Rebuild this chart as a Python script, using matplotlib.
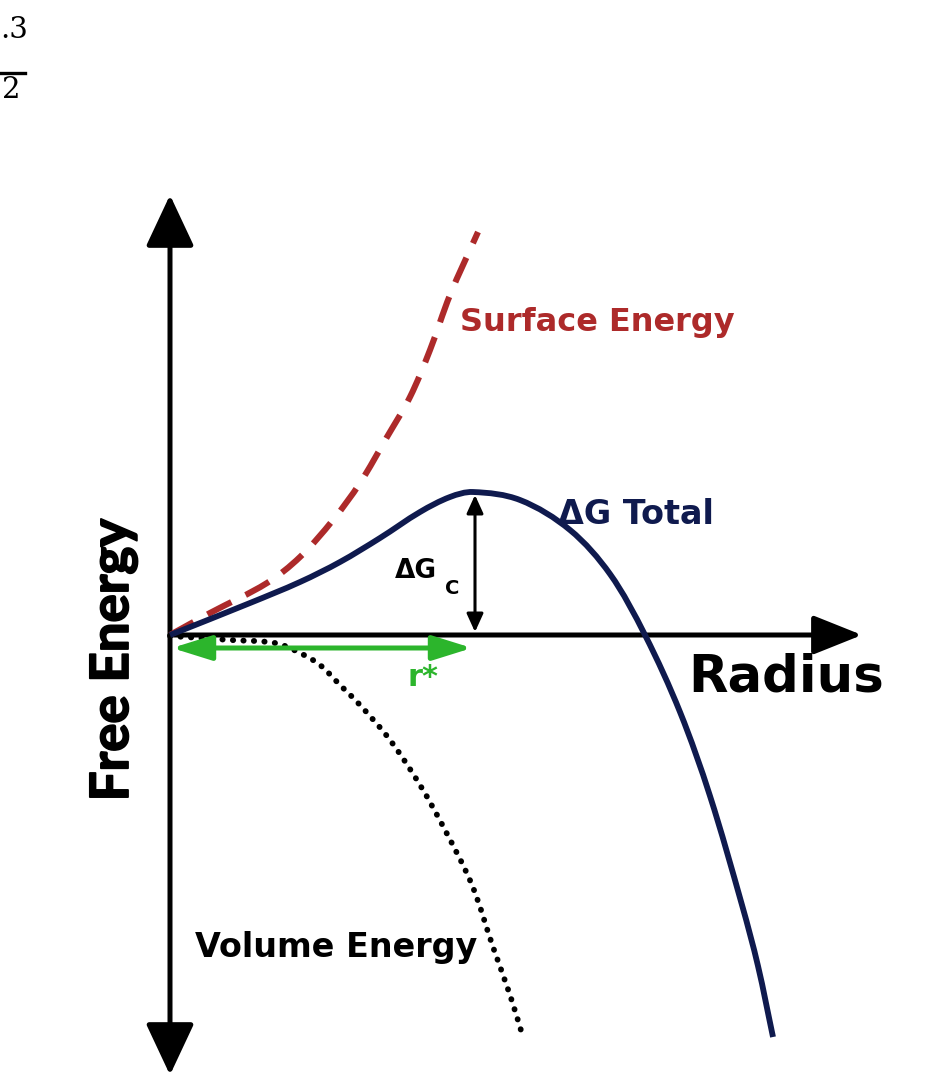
import matplotlib
matplotlib.use("Agg")
import matplotlib.pyplot as plt
import matplotlib.patheffects as pe
import numpy as np
from matplotlib.path import Path
from matplotlib.patches import PathPatch

# radius / free energy values (origin at the axes crossing)
surface_r = [0, 0.40, 0.97, 1.30, 1.63, 1.90, 2.17, 2.40, 2.60, 2.80, 3.08]
surface_g = [0, 0.22, 0.52, 0.78, 1.15, 1.52, 1.98, 2.38, 2.85, 3.40, 4.03]

total_r = [0, 0.80, 1.30, 1.70, 2.10, 2.50, 2.80, 3.03, 3.50, 4.00, 4.40, 4.75,
           5.10, 5.40, 5.72, 5.88, 6.03]
total_g = [0, 0.32, 0.53, 0.73, 0.97, 1.23, 1.38, 1.43, 1.35, 1.05, 0.61, 0,
           -0.77, -1.61, -2.70, -3.31, -4.02]

volume_r = [0, 0.60, 1.05, 1.30, 1.50, 1.70, 1.90, 2.20, 2.50, 2.75, 3.02, 3.23,
            3.40, 3.53]
volume_g = [-0.01, -0.05, -0.08, -0.18, -0.30, -0.50, -0.70, -1.05, -1.50, -1.95,
            -2.50, -3.12, -3.60, -4.02]

r_star = 3.02
dg_c = 1.42

FONT = "DejaVu Sans"
RED = "#ad2a2a"
NAVY = "#0f1a4e"
GREEN = "#2cb52c"

fig = plt.figure(figsize=(9.42, 10.83), dpi=100)
ax = fig.add_axes([0, 0, 1, 1])
ax.set_xlim(-1.70, 7.72)
ax.set_ylim(-4.48, 6.35)
ax.axis("off")


def smooth_curve(xs, ys, **kw):
    # bezier segments through the read points, tangent arms scaled per segment
    pts = np.column_stack([xs, ys])
    n = len(pts)
    tang = np.empty_like(pts)
    tang[0] = pts[1] - pts[0]
    tang[-1] = pts[-1] - pts[-2]
    tang[1:-1] = pts[2:] - pts[:-2]
    tang /= np.linalg.norm(tang, axis=1)[:, None]
    verts = [pts[0]]
    codes = [Path.MOVETO]
    for i in range(n - 1):
        seg = np.linalg.norm(pts[i + 1] - pts[i]) / 3
        verts += [pts[i] + tang[i] * seg, pts[i + 1] - tang[i + 1] * seg, pts[i + 1]]
        codes += [Path.CURVE4] * 3
    ax.add_patch(PathPatch(Path(verts, codes), fill=False, **kw))


def arrow(x0, y0, x1, y1, style, lw, color, hl, hw):
    ax.annotate("", xy=(x1, y1), xytext=(x0, y0),
                arrowprops=dict(arrowstyle=f"{style},head_length={hl},head_width={hw}",
                                lw=lw, color=color, shrinkA=0, shrinkB=0,
                                mutation_scale=1))


# axes arrows
arrow(0, -4.40, 0, 4.40, "<|-|>", 3.6, "black", 32, 15)
arrow(0, 0, 6.92, 0, "-|>", 3.6, "black", 30, 12)

# curves
smooth_curve(surface_r, surface_g, edgecolor=RED, lw=4.4,
             linestyle=(0, (4.4, 2.6)), zorder=3)
smooth_curve(volume_r, volume_g, edgecolor="black", lw=4.2,
             linestyle=(0, (0.05, 1.75)), capstyle="round", zorder=3)
smooth_curve(total_r, total_g, edgecolor=NAVY, lw=4.2, zorder=4)

# delta G_c and r*
arrow(r_star + 0.03, 0.03, r_star + 0.03, dg_c - 0.02, "<|-|>", 2.2, "black", 11, 5)
arrow(0.02, -0.13, r_star, -0.13, "<|-|>", 3.6, GREEN, 24, 7.5)

# labels
ax.text(-0.57, -0.25, "Free Energy", rotation=90, fontsize=38, fontweight="bold",
        family="Lato", ha="center", va="center",
        path_effects=[pe.withStroke(linewidth=1.3, foreground="black")])
ax.text(5.18, -0.43, "Radius", fontsize=37, fontweight="bold", family=FONT,
        ha="left", va="center")
ax.text(2.90, 3.13, "Surface Energy", fontsize=23, fontweight="bold", family=FONT,
        color=RED, ha="left", va="center")
ax.text(3.88, 1.20, "ΔG Total", fontsize=24, fontweight="bold", family=FONT,
        color=NAVY, ha="left", va="center")
ax.text(2.25, 0.64, "ΔG", fontsize=19, fontweight="bold", family=FONT,
        ha="left", va="center")
ax.text(2.75, 0.47, "C", fontsize=14, fontweight="bold", family=FONT,
        ha="left", va="center")
ax.text(2.38, -0.42, "r*", fontsize=22, fontweight="bold", family=FONT,
        color=GREEN, ha="left", va="center")
ax.text(0.25, -3.13, "Volume Energy", fontsize=24, fontweight="bold", family=FONT,
        ha="left", va="center")

# cropped fraction fragment in the top-left corner
fig.text(0.0, 0.972, ".3", fontsize=21, family="DejaVu Serif", ha="left", va="center")
fig.add_artist(plt.Line2D([0, 0.027], [0.933, 0.933], color="black", lw=2.4,
                          transform=fig.transFigure))
fig.text(0.002, 0.917, "2", fontsize=21, family="DejaVu Serif", ha="left", va="center")

fig.savefig("out.png", dpi=100, facecolor="white")
